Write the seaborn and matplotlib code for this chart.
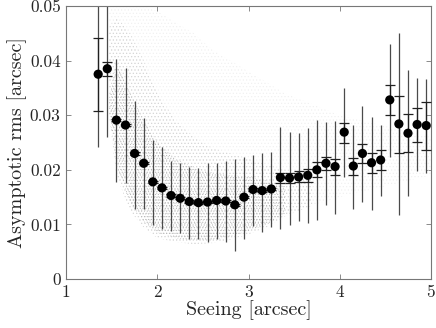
import numpy as np
import matplotlib
matplotlib.use("Agg")
import matplotlib.pyplot as plt
import seaborn as sns

sns.set_style("ticks")
plt.rcParams['font.family'] = ['cmr10', 'DejaVu Serif']
plt.rcParams['axes.formatter.use_mathtext'] = True
plt.rcParams['hatch.linewidth'] = 0.4

# binned seeing values [arcsec]
seeing = [1.35, 1.45, 1.55, 1.65, 1.75, 1.85, 1.95, 2.05, 2.15, 2.25,
          2.35, 2.45, 2.55, 2.65, 2.75, 2.85, 2.95, 3.05, 3.15, 3.25,
          3.35, 3.45, 3.55, 3.65, 3.75, 3.85, 3.95, 4.05, 4.15, 4.25,
          4.35, 4.45, 4.55, 4.65, 4.75, 4.85, 4.95]

# asymptotic rms per bin (units of 1e-3 arcsec)
rms = [37.5, 38.5, 29.1, 28.2, 23.0, 21.2, 17.8, 16.7, 15.3, 14.8,
       14.2, 14.0, 14.1, 14.4, 14.3, 13.6, 15.0, 16.4, 16.2, 16.5,
       18.6, 18.5, 18.7, 19.0, 20.0, 21.2, 20.6, 26.9, 20.7, 23.0,
       21.3, 21.8, 32.8, 28.4, 26.7, 28.3, 28.1]

# scatter (long bars) lower / upper ends
spread_lo = [24.1, 26.1, 17.8, 17.5, 12.9, 12.8, 9.9, 9.1, 8.8, 8.4,
             7.4, 7.3, 6.8, 7.4, 6.8, 5.2, 7.4, 9.8, 8.7, 9.5,
             9.1, 9.9, 10.7, 10.3, 10.8, 13.5, 12.0, 18.7, 12.9, 14.2,
             12.6, 15.3, 22.4, 11.8, 15.2, 19.7, 19.4]
spread_hi = [51.0, 51.0, 40.2, 38.7, 32.6, 29.4, 25.5, 24.2, 21.6, 21.2,
             20.6, 20.4, 21.2, 21.3, 21.7, 21.9, 22.3, 22.7, 23.1, 23.3,
             27.9, 27.0, 26.8, 27.6, 29.1, 28.8, 28.9, 34.9, 28.2, 31.7,
             29.7, 28.2, 43.0, 45.0, 38.2, 36.8, 36.7]

# error of the mean (capped bars) lower / upper ends
err_lo = [30.8, 37.1, 28.9, 28.0, 22.8, 21.0, 17.6, 16.5, 15.1, 14.6,
          14.0, 13.8, 13.9, 14.2, 14.1, 13.4, 14.8, 16.2, 16.0, 16.3,
          17.6, 17.5, 17.7, 17.8, 18.6, 20.0, 19.1, 25.0, 19.0, 21.2,
          19.5, 19.9, 30.0, 23.1, 23.2, 25.1, 23.6]
err_hi = [44.1, 39.8, 29.3, 28.4, 23.2, 21.4, 18.0, 16.9, 15.5, 15.0,
          14.4, 14.2, 14.3, 14.6, 14.5, 13.8, 15.2, 16.6, 16.4, 16.7,
          19.5, 19.5, 19.8, 20.1, 21.4, 22.4, 21.9, 28.6, 22.2, 24.7,
          23.0, 23.6, 35.5, 33.6, 30.2, 31.3, 32.4]

# envelope of the individual measurements (grey cloud)
cloud_x = [1.47, 1.55, 1.7, 1.85, 2.0, 2.2, 2.4, 2.6, 2.8, 3.0, 3.2, 3.4, 3.7, 4.0, 4.5, 5.0]
sparse_lo = [0.0300, 0.0190, 0.0125, 0.0095, 0.0075, 0.0068, 0.0064, 0.0066, 0.0072,
             0.0082, 0.0095, 0.0115, 0.0135, 0.0150, 0.0170, 0.0190]
sparse_hi = [0.0500, 0.0500, 0.0500, 0.0500, 0.0490, 0.0470, 0.0450, 0.0420, 0.0400,
             0.0380, 0.0360, 0.0340, 0.0320, 0.0300, 0.0280, 0.0260]
mid_hi = [0.0460, 0.0480, 0.0450, 0.0400, 0.0340, 0.0290, 0.0260, 0.0240, 0.0230,
          0.0220, 0.0210, 0.0200, 0.0195, 0.0200, 0.0210, 0.0215]
dense_lo = [0.0310, 0.0210, 0.0140, 0.0105, 0.0085, 0.0075, 0.0070, 0.0072, 0.0078,
            0.0088, 0.0100, 0.0120, 0.0150, 0.0170, 0.0190, 0.0200]
dense_hi = [0.0330, 0.0400, 0.0340, 0.0290, 0.0250, 0.0220, 0.0205, 0.0195, 0.0190,
            0.0188, 0.0180, 0.0170, 0.0165, 0.0180, 0.0195, 0.0205]

x = np.array(seeing)
y = np.array(rms) * 1e-3
s_lo = np.array(spread_lo) * 1e-3
s_hi = np.array(spread_hi) * 1e-3
e_lo = np.array(err_lo) * 1e-3
e_hi = np.array(err_hi) * 1e-3

fig = plt.figure(figsize=(4.36, 3.28), dpi=100)
ax = fig.add_axes([0.152, 0.149, 0.836, 0.833])

# grey cloud of single measurements, drawn as stippled density bands
ax.fill_between(cloud_x, sparse_lo, sparse_hi, facecolor='none', edgecolor='#efefef',
                hatch='.....', linewidth=0, zorder=1)
ax.fill_between(cloud_x[:13], sparse_lo[:13], mid_hi[:13], facecolor='none',
                edgecolor='#d4d4d4', hatch='.....', linewidth=0, zorder=1)
ax.fill_between(cloud_x[:12], dense_lo[:12], dense_hi[:12], facecolor='none',
                edgecolor='#b4b4b4', hatch='......', linewidth=0, zorder=1)

ax.errorbar(x, y, yerr=[y - s_lo, s_hi - y], fmt='none', ecolor='#4a4a4a',
            elinewidth=0.9, capsize=0, zorder=2)
ax.errorbar(x, y, yerr=[y - e_lo, e_hi - y], fmt='none', ecolor='#202020',
            elinewidth=0.9, capsize=3.3, capthick=0.9, zorder=3)
sns.scatterplot(x=x, y=y, color='black', s=44, edgecolor='none', ax=ax, zorder=4)

ax.set_xlim(1, 5)
ax.set_ylim(0, 0.05)
ax.set_xticks([1, 2, 3, 4, 5])
ax.set_xticklabels(['1', '2', '3', '4', '5'])
ax.set_yticks([0, 0.01, 0.02, 0.03, 0.04, 0.05])
ax.set_yticklabels(['0', '0.01', '0.02', '0.03', '0.04', '0.05'])
ax.tick_params(direction='in', length=3.5, width=0.6, color='#777777',
               top=True, right=True, labelsize=12.5, pad=4)
for sp in ax.spines.values():
    sp.set_color('#777777')
    sp.set_linewidth(0.8)

ax.set_xlabel('Seeing [arcsec]', fontsize=14.5, labelpad=0)
ax.set_ylabel('Asymptotic rms [arcsec]', fontsize=14.5, labelpad=2)

fig.savefig('out.png', dpi=100)
